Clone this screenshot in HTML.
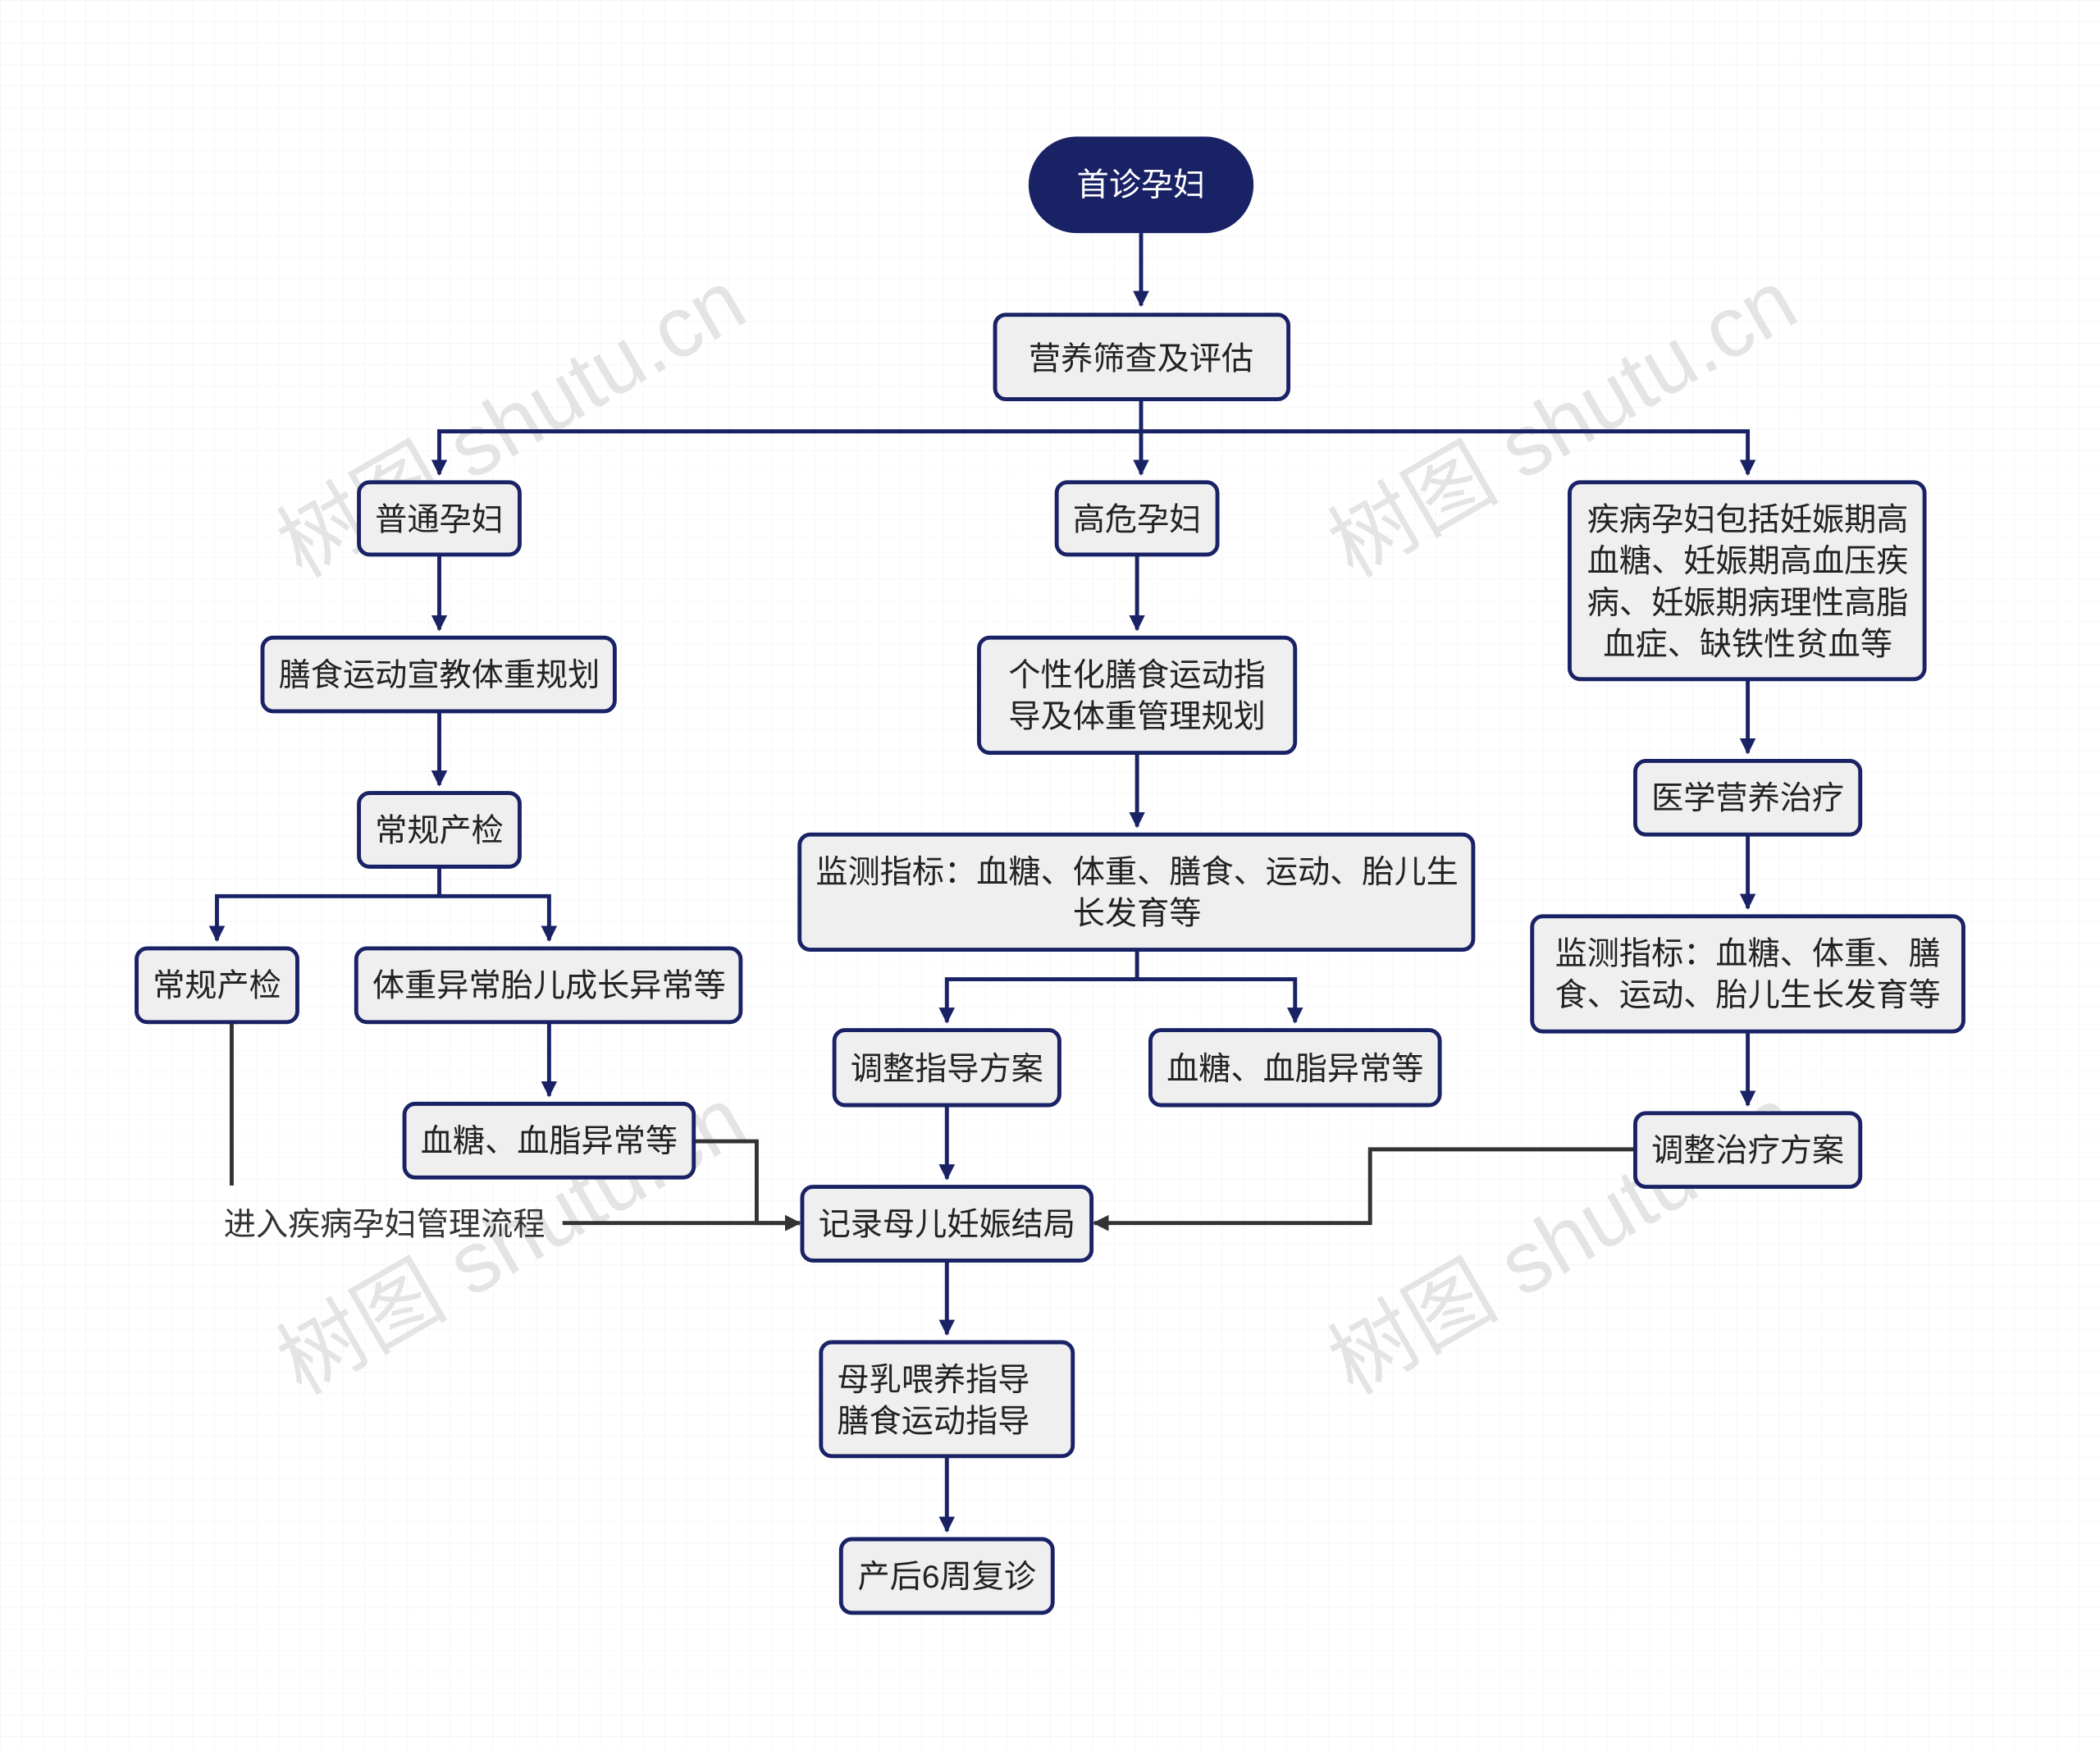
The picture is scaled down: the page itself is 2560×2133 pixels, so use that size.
<!DOCTYPE html>
<html><head><meta charset="utf-8"><style>
html,body{margin:0;padding:0;background:#fff}
svg{display:block}
text{font-family:"Liberation Sans","Noto Sans CJK SC",sans-serif}
</style></head><body>
<svg width="2560" height="2133" viewBox="0 0 1568 1306.4" preserveAspectRatio="none" xmlns="http://www.w3.org/2000/svg">
<defs>
<pattern id="g" width="16" height="16" patternUnits="userSpaceOnUse"><path d="M16 0H0V16" fill="none" stroke="#f1f2f5" stroke-width="0.8"/></pattern>
<marker id="a" viewBox="0 0 10 10" refX="9" refY="5" markerWidth="4" markerHeight="4" orient="auto"><path d="M0 0L10 5L0 10z" fill="#1a2266"/></marker>
<marker id="b" viewBox="0 0 10 10" refX="9" refY="5" markerWidth="4" markerHeight="4" orient="auto"><path d="M0 0L10 5L0 10z" fill="#333"/></marker>
</defs>
<rect width="1568" height="1306.4" fill="url(#g)"/>
<g fill="#d8d8d8" font-size="64" opacity="0.7">
<text transform="translate(225,432) rotate(-30)">树图 shutu.cn</text>
<text transform="translate(1010,432) rotate(-30)">树图 shutu.cn</text>
<text transform="translate(225,1042) rotate(-30)">树图 shutu.cn</text>
<text transform="translate(1010,1042) rotate(-30)">树图 shutu.cn</text>
</g>
<g stroke="#1a2266" stroke-width="3" fill="none" marker-end="url(#a)">
<path d="M852 174V228"/>
<path d="M852 298V322H328V354"/>
<path d="M852 322V354"/>
<path d="M852 322H1305V354"/>
<path d="M328 414V470"/>
<path d="M849 414V470"/>
<path d="M1305 507V562"/>
<path d="M328 531V586"/>
<path d="M849 562V617"/>
<path d="M1305 623V678"/>
<path d="M328 647V669H162V702"/>
<path d="M328 669H410V702"/>
<path d="M849 709V731H707V763"/>
<path d="M849 731H967V763"/>
<path d="M1305 770V825"/>
<path d="M410 763V818"/>
<path d="M707 825V880"/>
<path d="M707 941V996"/>
<path d="M707 1087V1143"/>
</g>
<g stroke="#333" stroke-width="3" fill="none">
<path d="M173 763V885"/>
<path d="M420 913H597" marker-end="url(#b)"/>
<path d="M518 852H565V913H597" marker-end="url(#b)"/>
<path d="M1221 858H1023V913H817" marker-end="url(#b)"/>
</g>
<rect x="768" y="102" width="168" height="72" rx="36" fill="#1a2266"/>
<text x="852" y="146" font-size="24" fill="#fff" text-anchor="middle">首诊孕妇</text>
<g fill="#efefef" stroke="#1a2266" stroke-width="3">
<rect x="743" y="235" width="219" height="63" rx="8"/>
<rect x="268" y="360" width="120" height="54" rx="8"/>
<rect x="789" y="360" width="120" height="54" rx="8"/>
<rect x="1172" y="360" width="265" height="147" rx="8"/>
<rect x="196" y="476" width="263" height="55" rx="8"/>
<rect x="731" y="476" width="236" height="86" rx="8"/>
<rect x="1221" y="568" width="168" height="55" rx="8"/>
<rect x="268" y="592" width="120" height="55" rx="8"/>
<rect x="597" y="623" width="503" height="86" rx="8"/>
<rect x="102" y="708" width="120" height="55" rx="8"/>
<rect x="266" y="708" width="287" height="55" rx="8"/>
<rect x="1144" y="684" width="322" height="86" rx="8"/>
<rect x="623" y="769" width="168" height="56" rx="8"/>
<rect x="859" y="769" width="216" height="56" rx="8"/>
<rect x="302" y="824" width="216" height="55" rx="8"/>
<rect x="1221" y="831" width="168" height="55" rx="8"/>
<rect x="599" y="886" width="216" height="55" rx="8"/>
<rect x="613" y="1002" width="188" height="85" rx="8"/>
<rect x="628" y="1149" width="158" height="55" rx="8"/>
</g>
<g font-size="24" fill="#222" text-anchor="middle">
<text x="852" y="276">营养筛查及评估</text>
<text x="328" y="396">普通孕妇</text>
<text x="849" y="396">高危孕妇</text>
<text x="1305" y="396">疾病孕妇包括妊娠期高</text>
<text x="1305" y="427">血糖、妊娠期高血压疾</text>
<text x="1305" y="458">病、妊娠期病理性高脂</text>
<text x="1305" y="489">血症、缺铁性贫血等</text>
<text x="328" y="512">膳食运动宣教体重规划</text>
<text x="849" y="512">个性化膳食运动指</text>
<text x="849" y="543">导及体重管理规划</text>
<text x="1305" y="604">医学营养治疗</text>
<text x="328" y="628">常规产检</text>
<text x="849" y="659">监测指标：血糖、体重、膳食、运动、胎儿生</text>
<text x="849" y="690">长发育等</text>
<text x="162" y="744">常规产检</text>
<text x="410" y="744">体重异常胎儿成长异常等</text>
<text x="1305" y="720">监测指标：血糖、体重、膳</text>
<text x="1305" y="751">食、运动、胎儿生长发育等</text>
<text x="707" y="806">调整指导方案</text>
<text x="967" y="806">血糖、血脂异常等</text>
<text x="410" y="860">血糖、血脂异常等</text>
<text x="1305" y="867">调整治疗方案</text>
<text x="707" y="922">记录母儿妊娠结局</text>
<text x="697" y="1038">母乳喂养指导</text>
<text x="697" y="1069">膳食运动指导</text>
<text x="707" y="1185">产后6周复诊</text>
<text x="287" y="922" fill="#333">进入疾病孕妇管理流程</text>
</g>
</svg>
</body></html>
